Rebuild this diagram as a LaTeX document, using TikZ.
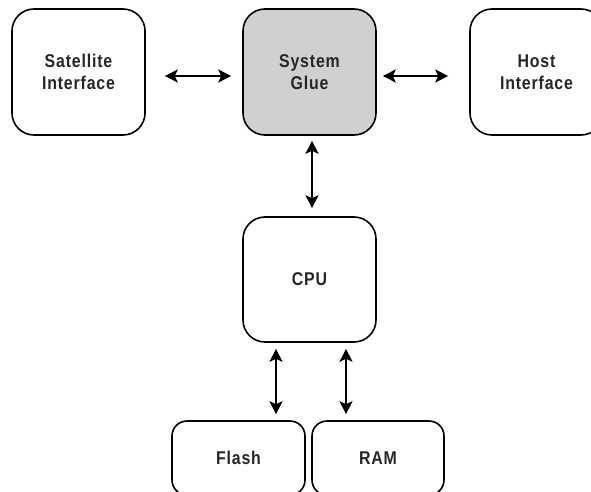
\documentclass[tikz,border=0pt]{standalone}
\usepackage{fontspec}
\setmainfont{Liberation Sans}
\newfontfamily\boxfont[LetterSpace=4.5,FakeStretch=0.86]{Liberation Sans}
\usetikzlibrary{arrows.meta}
\definecolor{gluefill}{RGB}{208,208,208}
\begin{document}
\begin{tikzpicture}[x=1pt,y=-1pt,
    block/.style={draw,line width=1.6pt,rounded corners=22pt,minimum width=133pt,
      minimum height=126pt,align=center,text=black!85,
      font=\boxfont\fontsize{18.5}{22.5}\selectfont\bfseries},
    small/.style={block,rounded corners=15pt,minimum height=74pt},
    link/.style={{Stealth[length=13pt,width=13pt,inset=3pt]}-{Stealth[length=13pt,width=13pt,inset=3pt]},
      line width=1.4pt}]
      \useasboundingbox (0,0) rectangle (591,492);
      \clip (0,0) rectangle (591,492);
      \draw
        (78.5,72) node[block] (sat){Satellite\\Interface}
        (309.5,72) node[block,fill=gluefill] (glue){System\\Glue}
        (536.5,72) node[block] (host){Host\\Interface}
        (309.5,279.5) node[block,minimum height=125pt] (cpu){CPU}
        (238.5,458) node[small] (flash){Flash}
        (378,458) node[small,minimum width=132pt] (ram){RAM};
      \begin{scope}[link]
        \draw[shorten <=19pt,shorten >=11pt] ([yshift=-4pt]sat.east) to ([yshift=-4pt]glue.west);
        \draw[shorten <=6pt,shorten >=21pt] ([yshift=-4pt]glue.east) to ([yshift=-4pt]host.west);
        \draw[shorten <=5pt,shorten >=8pt] ([xshift=2.5pt]glue.south) to ([xshift=2.5pt]cpu.north);
        \draw[shorten <=6pt,shorten >=6pt] ([xshift=-33.5pt]cpu.south) to ([xshift=37.5pt]flash.north);
        \draw[shorten <=6pt,shorten >=6pt] ([xshift=36.5pt]cpu.south) to ([xshift=-32pt]ram.north);
      \end{scope}
    \end{tikzpicture}
\end{document}
